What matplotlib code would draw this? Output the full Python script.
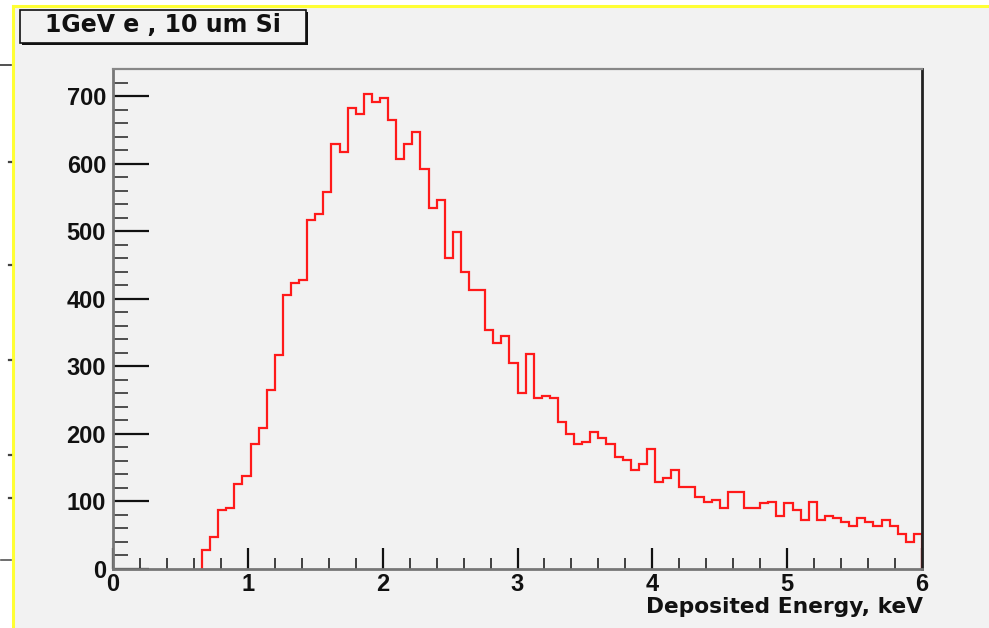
import numpy as np
import matplotlib
matplotlib.use("Agg")
import matplotlib.pyplot as plt
from matplotlib.patches import Rectangle
from matplotlib.lines import Line2D
from matplotlib.ticker import MultipleLocator

# ---------------- data ----------------
bin_edges = np.linspace(0.0, 6.0, 101)          # 100 bins of 0.06 keV
counts = [
    0, 0, 0, 0, 0, 0, 0, 0, 0, 0,
    0, 28, 48, 87, 90, 126, 137, 185, 208, 265,
    317, 406, 424, 427, 516, 525, 558, 629, 617, 682,
    674, 703, 691, 697, 664, 607, 629, 647, 592, 534,
    546, 460, 499, 440, 413, 413, 354, 335, 345, 305,
    261, 318, 253, 256, 253, 218, 200, 185, 188, 203,
    194, 185, 166, 162, 146, 155, 178, 129, 134, 147,
    122, 122, 107, 99, 102, 90, 114, 114, 90, 90,
    97, 99, 79, 97, 87, 72, 99, 72, 78, 75,
    70, 64, 75, 70, 64, 73, 64, 52, 40, 52,
]
x_ticks = [0, 1, 2, 3, 4, 5, 6]
y_ticks = [0, 100, 200, 300, 400, 500, 600, 700]
title_text = "1GeV e , 10 um Si"
x_label = "Deposited Energy, keV"

# ---------------- figure ----------------
W, H = 989, 628
fig = plt.figure(figsize=(W / 100, H / 100), dpi=100)
fig.patch.set_facecolor("white")
FONT = ["Liberation Sans", "DejaVu Sans"]
WIDE = ["DejaVu Sans"]
BG = "#f2f2f2"


def fx(px):
    return px / W


def fy(py):
    return 1 - py / H


# grey canvas inside the yellow border
fig.add_artist(Rectangle((fx(13), 0), 1 - fx(13), fy(6), transform=fig.transFigure,
                         facecolor=BG, edgecolor="none", zorder=0))
# yellow border lines
fig.add_artist(Line2D([fx(12.5), 1], [fy(6), fy(6)], transform=fig.transFigure,
                      color="#ffff33", lw=2.2, zorder=1))
fig.add_artist(Line2D([fx(12.5), fx(12.5)], [0, fy(6)], transform=fig.transFigure,
                      color="#ffff33", lw=2.2, zorder=1))

# left-edge remnants of a neighbouring pad
fig.add_artist(Line2D([fx(0), fx(11)], [fy(65), fy(65)], transform=fig.transFigure,
                      color="#333333", lw=1.2))
for yy in [162, 265, 360, 455, 498]:
    fig.add_artist(Line2D([fx(9), fx(11)], [fy(yy), fy(yy)], transform=fig.transFigure,
                          color="#444444", lw=1.6))
fig.add_artist(Line2D([fx(1), fx(11)], [fy(560), fy(560)], transform=fig.transFigure,
                      color="#555555", lw=1.2))

# ---------------- axes ----------------
ax = fig.add_axes([fx(113), fy(569), fx(922) - fx(113), fy(69) - fy(569)])
ax.set_facecolor(BG)
first = next(i for i, c in enumerate(counts) if c > 0)
ax.stairs(counts[first:], bin_edges[first:], color="#ff1a1a", lw=1.6,
          baseline=0, fill=False, zorder=2)
ax.set_xlim(0, 6)
ax.set_ylim(0, 740)

ax.set_xticks(x_ticks)
ax.set_yticks(y_ticks)
ax.xaxis.set_minor_locator(MultipleLocator(0.2))
ax.yaxis.set_minor_locator(MultipleLocator(20))
ax.tick_params(axis="x", which="major", direction="in", length=15, width=1.6,
               color="#111111", pad=3, top=False)
ax.tick_params(axis="x", which="minor", direction="in", length=8, width=1.2,
               color="#222222", top=False)
ax.tick_params(axis="y", which="major", direction="in", length=26, width=1.6,
               color="#111111", pad=5, right=False)
ax.tick_params(axis="y", which="minor", direction="in", length=11, width=1.2,
               color="#333333", right=False)
for lab in ax.get_xticklabels() + ax.get_yticklabels():
    lab.set_fontfamily(FONT)
    lab.set_fontweight("bold")
    lab.set_fontsize(17)
    lab.set_color("#111111")

ax.spines["left"].set_color("#777777")
ax.spines["left"].set_linewidth(2.0)
ax.spines["bottom"].set_color("#777777")
ax.spines["bottom"].set_linewidth(2.0)
ax.spines["top"].set_color("#888888")
ax.spines["top"].set_linewidth(1.6)
ax.spines["right"].set_color("#222222")
ax.spines["right"].set_linewidth(2.0)
for sp in ax.spines.values():
    sp.set_zorder(3)

# x-axis title, right aligned at the axis end
fig.text(fx(922.5), fy(613.3), x_label, ha="right", va="baseline",
         fontsize=15.7, fontweight="bold", family=WIDE, color="#111111")

# ---------------- title box ----------------
bx0, by0, bx1, by1 = 20, 10, 306, 43
fig.add_artist(Rectangle((fx(bx0 + 2), fy(by1 + 2)), fx(bx1 - bx0), fy(by0) - fy(by1),
                         transform=fig.transFigure, facecolor="#111111",
                         edgecolor="none", zorder=4))
fig.add_artist(Rectangle((fx(bx0), fy(by1)), fx(bx1 - bx0), fy(by0) - fy(by1),
                         transform=fig.transFigure, facecolor=BG,
                         edgecolor="#111111", lw=1.2, zorder=5))
fig.text(fx(162.5), fy(32), title_text, ha="center", va="baseline",
         fontsize=17, fontweight="bold", family=WIDE, color="#111111", zorder=6)

fig.savefig("out.png", dpi=100, facecolor=fig.get_facecolor())
